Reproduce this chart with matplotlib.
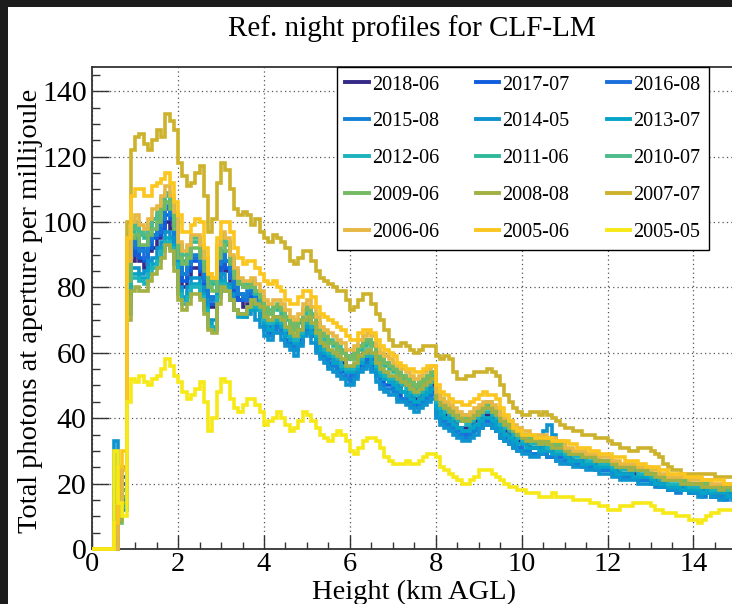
import numpy as np
import matplotlib
matplotlib.use("Agg")
import matplotlib.pyplot as plt
from matplotlib.patches import Rectangle
from matplotlib.lines import Line2D
from matplotlib.ticker import MultipleLocator

plt.rcParams['font.family'] = ['Liberation Serif', 'DejaVu Serif']

# Profiles are histograms in 0.1 km height bins starting at 0 km AGL.
BIN_WIDTH_KM = 0.1

p2018_06 = [0, 0, 0, 0, 0, 4, 12, 16, 78, 88,
            91, 88, 86, 91, 92, 95, 97, 100, 98, 92,
            84, 80, 83, 86, 86, 83, 79, 74, 74, 83,
            88, 85, 80, 77, 76, 74, 75, 77, 74, 71,
            70, 68, 70, 71, 69, 66, 65, 64, 67, 69,
            70, 68, 64, 62, 62, 60, 58, 58, 57, 55,
            54, 56, 58, 60, 60, 58, 56, 54, 53, 52,
            51, 50, 48, 48, 47, 46, 47, 49, 49, 50,
            44, 42, 41, 40, 39, 37, 37, 37, 38, 39,
            40, 41, 41, 40, 39, 37, 36, 35, 34, 33,
            32, 32, 31, 31, 31, 31, 30, 30, 29, 29,
            28, 28, 27, 27, 27, 26, 26, 26, 25, 25,
            25, 24, 24, 23, 23, 23, 23, 22, 22, 22,
            21, 21, 20, 20, 19, 19, 19, 19, 19, 18,
            18, 18, 18, 18, 17, 17, 17, 17, 17, 17]

p2017_07 = [0, 0, 0, 0, 0, 18, 14, 20, 80, 90,
            93, 89, 88, 92, 95, 96, 98, 102, 101, 94,
            86, 82, 85, 88, 88, 85, 81, 75, 75, 85,
            89, 86, 83, 78, 76, 76, 77, 77, 75, 73,
            68, 66, 68, 69, 66, 64, 63, 61, 64, 67,
            68, 65, 62, 60, 59, 57, 56, 55, 54, 52,
            52, 54, 56, 57, 58, 56, 53, 51, 50, 50,
            49, 47, 46, 46, 45, 44, 45, 46, 47, 48,
            42, 40, 38, 37, 36, 35, 34, 35, 36, 37,
            38, 39, 39, 38, 36, 35, 34, 33, 32, 31,
            30, 30, 29, 29, 29, 29, 28, 28, 28, 28,
            27, 27, 26, 26, 26, 25, 25, 25, 24, 24,
            24, 23, 23, 22, 22, 22, 22, 21, 21, 21,
            20, 20, 19, 19, 18, 18, 18, 18, 18, 17,
            17, 17, 17, 17, 16, 16, 16, 16, 16, 16]

p2016_08 = [0, 0, 0, 0, 0, 10, 16, 22, 82, 92,
            94, 92, 89, 94, 96, 97, 101, 104, 102, 95,
            86, 84, 87, 89, 89, 86, 82, 76, 77, 87,
            90, 88, 83, 80, 78, 76, 78, 79, 76, 74,
            69, 68, 70, 69, 68, 66, 64, 63, 66, 68,
            69, 67, 64, 61, 60, 58, 58, 57, 55, 54,
            53, 55, 57, 58, 59, 58, 55, 53, 52, 51,
            50, 49, 48, 47, 46, 45, 46, 47, 48, 49,
            42, 41, 39, 38, 37, 36, 35, 36, 36, 37,
            38, 40, 39, 38, 37, 35, 34, 33, 32, 31,
            30, 30, 29, 29, 29, 29, 28, 29, 28, 28,
            27, 26, 26, 26, 25, 25, 25, 24, 24, 24,
            24, 23, 23, 22, 22, 22, 22, 21, 21, 21,
            20, 20, 19, 19, 18, 18, 18, 18, 18, 17,
            17, 17, 17, 17, 16, 16, 16, 16, 16, 16]

p2015_08 = [0, 0, 0, 0, 0, 14, 20, 18, 84, 93,
            95, 91, 91, 95, 96, 99, 101, 105, 102, 96,
            87, 84, 87, 90, 90, 88, 83, 77, 76, 87,
            91, 88, 85, 80, 78, 77, 79, 79, 77, 75,
            67, 65, 67, 68, 66, 63, 62, 61, 63, 66,
            67, 65, 61, 59, 58, 56, 56, 54, 53, 52,
            51, 53, 55, 56, 57, 55, 53, 50, 49, 49,
            48, 46, 46, 45, 44, 43, 44, 45, 46, 47,
            41, 39, 38, 37, 36, 35, 34, 34, 35, 36,
            37, 38, 38, 37, 36, 34, 33, 32, 31, 30,
            30, 30, 29, 29, 29, 29, 28, 28, 27, 27,
            27, 27, 26, 26, 26, 25, 25, 25, 24, 24,
            24, 23, 23, 22, 22, 22, 22, 21, 21, 21,
            20, 19, 19, 19, 18, 18, 17, 18, 18, 17,
            17, 17, 16, 17, 16, 16, 16, 15, 16, 16]

p2014_05 = [0, 0, 0, 0, 0, 33, 16, 12, 75, 86,
            86, 84, 85, 88, 89, 92, 94, 97, 95, 89,
            80, 77, 80, 83, 83, 80, 76, 70, 70, 80,
            84, 81, 78, 73, 72, 71, 72, 73, 70, 68,
            65, 64, 66, 66, 64, 62, 61, 59, 62, 65,
            66, 63, 60, 58, 57, 55, 54, 53, 52, 50,
            50, 52, 54, 55, 56, 54, 51, 49, 48, 47,
            47, 45, 45, 44, 43, 42, 43, 44, 45, 46,
            40, 38, 37, 36, 35, 34, 33, 33, 34, 35,
            37, 38, 38, 37, 36, 34, 33, 32, 31, 30,
            29, 29, 28, 28, 29, 36, 38, 35, 27, 26,
            26, 26, 25, 25, 25, 24, 24, 24, 23, 23,
            23, 22, 22, 21, 21, 21, 21, 20, 20, 20,
            20, 20, 19, 19, 18, 18, 18, 18, 18, 17,
            17, 16, 17, 17, 16, 16, 15, 16, 16, 15]

p2013_07 = [0, 0, 0, 0, 0, 6, 12, 15, 74, 84,
            84, 83, 83, 86, 87, 89, 92, 95, 93, 87,
            79, 76, 78, 81, 81, 78, 74, 69, 68, 78,
            82, 80, 76, 73, 71, 71, 73, 74, 73, 71,
            69, 67, 69, 70, 68, 65, 64, 63, 65, 68,
            69, 66, 64, 61, 60, 59, 57, 57, 55, 54,
            54, 55, 57, 59, 59, 57, 55, 53, 52, 51,
            50, 49, 48, 47, 46, 45, 46, 47, 48, 49,
            43, 41, 40, 39, 38, 37, 36, 36, 37, 38,
            39, 40, 40, 39, 38, 36, 35, 34, 33, 32,
            32, 31, 31, 31, 30, 31, 30, 29, 29, 29,
            28, 27, 27, 27, 26, 26, 26, 25, 25, 25,
            25, 24, 23, 23, 23, 23, 22, 22, 22, 22,
            21, 20, 20, 20, 19, 19, 19, 18, 19, 18,
            18, 18, 17, 18, 17, 17, 17, 17, 16, 17]

p2012_06 = [0, 0, 0, 0, 0, 8, 10, 13, 72, 83,
            83, 82, 81, 84, 86, 88, 91, 94, 92, 87,
            78, 75, 77, 80, 80, 77, 73, 68, 67, 77,
            81, 79, 76, 73, 72, 72, 74, 76, 74, 73,
            70, 69, 70, 71, 69, 67, 65, 64, 66, 69,
            70, 68, 65, 63, 61, 60, 59, 58, 56, 55,
            55, 56, 58, 59, 61, 59, 56, 54, 53, 52,
            52, 51, 50, 49, 48, 47, 48, 49, 50, 51,
            45, 43, 42, 41, 40, 39, 39, 38, 39, 40,
            41, 42, 42, 41, 40, 38, 37, 36, 35, 34,
            33, 33, 32, 32, 32, 32, 31, 31, 30, 30,
            29, 29, 28, 28, 28, 27, 27, 27, 26, 26,
            26, 25, 25, 24, 24, 24, 24, 23, 23, 23,
            22, 22, 21, 21, 20, 20, 20, 20, 20, 19,
            19, 19, 19, 19, 18, 18, 18, 18, 18, 18]

p2011_06 = [0, 0, 0, 0, 0, 0, 10, 14, 84, 97,
            99, 96, 95, 98, 101, 102, 105, 108, 106, 100,
            92, 88, 91, 94, 94, 91, 87, 82, 81, 91,
            95, 93, 88, 84, 81, 80, 80, 81, 78, 76,
            73, 72, 74, 73, 72, 70, 68, 67, 69, 72,
            73, 71, 68, 65, 64, 63, 62, 61, 60, 58,
            58, 59, 61, 62, 63, 62, 59, 57, 56, 55,
            54, 53, 52, 51, 50, 49, 50, 51, 52, 53,
            46, 44, 43, 42, 41, 40, 39, 39, 40, 41,
            42, 43, 43, 42, 41, 39, 38, 37, 36, 35,
            34, 34, 33, 33, 33, 33, 32, 32, 31, 31,
            30, 30, 29, 29, 29, 28, 28, 28, 27, 27,
            27, 26, 26, 25, 25, 25, 25, 24, 24, 24,
            23, 23, 22, 22, 21, 21, 21, 21, 21, 20,
            20, 20, 20, 20, 19, 19, 19, 19, 19, 19]

p2010_07 = [0, 0, 0, 0, 0, 0, 12, 18, 85, 98,
            100, 97, 96, 99, 101, 103, 107, 109, 107, 101,
            93, 90, 92, 95, 95, 92, 88, 83, 82, 92,
            96, 94, 89, 85, 82, 81, 81, 82, 79, 77,
            74, 73, 74, 74, 73, 71, 69, 68, 70, 73,
            74, 72, 69, 66, 65, 64, 63, 62, 61, 59,
            59, 60, 62, 63, 64, 63, 60, 58, 57, 56,
            55, 54, 53, 52, 51, 50, 51, 52, 53, 54,
            47, 45, 44, 43, 42, 41, 40, 40, 41, 42,
            43, 44, 44, 43, 42, 40, 39, 38, 37, 36,
            35, 34, 33, 34, 33, 33, 32, 32, 32, 31,
            30, 29, 29, 29, 28, 28, 28, 27, 27, 27,
            27, 26, 25, 25, 25, 25, 24, 24, 24, 23,
            23, 23, 22, 22, 21, 21, 21, 21, 21, 20,
            20, 20, 19, 20, 19, 19, 19, 19, 18, 19]

p2009_06 = [0, 0, 0, 0, 0, 0, 8, 16, 82, 95,
            96, 93, 93, 96, 98, 100, 104, 106, 104, 98,
            89, 87, 89, 92, 92, 89, 85, 80, 79, 89,
            93, 91, 87, 83, 81, 80, 80, 81, 79, 77,
            74, 72, 74, 75, 73, 71, 69, 67, 70, 73,
            74, 71, 69, 66, 65, 63, 63, 61, 60, 59,
            58, 60, 62, 64, 64, 62, 60, 58, 57, 56,
            55, 54, 53, 52, 51, 50, 51, 52, 53, 54,
            47, 46, 44, 43, 42, 41, 41, 40, 41, 42,
            43, 44, 45, 43, 42, 40, 39, 38, 37, 36,
            35, 35, 34, 34, 34, 34, 33, 33, 32, 32,
            30, 30, 29, 29, 29, 28, 28, 28, 27, 27,
            27, 26, 26, 25, 25, 25, 25, 24, 24, 24,
            23, 23, 22, 22, 21, 21, 21, 21, 21, 20,
            20, 20, 20, 20, 19, 19, 19, 19, 19, 19]

p2008_08 = [0, 0, 0, 0, 0, 0, 9, 14, 70, 79,
            80, 79, 79, 82, 84, 86, 89, 93, 91, 85,
            76, 73, 75, 78, 78, 76, 72, 67, 66, 75,
            80, 79, 76, 73, 72, 72, 74, 76, 75, 74,
            71, 70, 71, 71, 70, 68, 66, 65, 67, 70,
            71, 69, 66, 63, 62, 61, 60, 59, 58, 56,
            56, 57, 59, 60, 61, 60, 57, 55, 54, 53,
            53, 52, 51, 50, 49, 48, 49, 50, 51, 52,
            46, 44, 43, 42, 41, 40, 39, 39, 40, 41,
            42, 43, 43, 42, 41, 39, 38, 37, 36, 35,
            34, 33, 33, 33, 32, 33, 32, 31, 31, 31,
            30, 29, 29, 29, 28, 28, 28, 27, 27, 27,
            27, 26, 25, 25, 25, 24, 25, 24, 24, 23,
            23, 22, 22, 21, 21, 21, 21, 20, 20, 20,
            20, 20, 19, 19, 19, 19, 18, 19, 19, 18]

p2007_07 = [0, 0, 0, 0, 0, 5, 18, 25, 100, 122,
            126, 127, 124, 122, 125, 128, 126, 133, 131, 128,
            118, 114, 111, 112, 115, 117, 108, 97, 101, 112,
            118, 116, 110, 104, 102, 103, 102, 99, 101, 97,
            95, 94, 96, 95, 94, 92, 88, 87, 89, 91,
            91, 88, 85, 83, 82, 81, 80, 79, 79, 76,
            73, 74, 76, 78, 78, 75, 72, 70, 67, 64,
            62, 62, 63, 62, 61, 60, 61, 62, 62, 62,
            59, 58, 59, 58, 54, 52, 52, 53, 53, 54,
            54, 54, 55, 54, 53, 50, 47, 45, 43, 42,
            41, 41, 42, 42, 41, 42, 41, 40, 39, 38,
            37, 37, 36, 36, 35, 35, 35, 34, 34, 34,
            33, 32, 32, 31, 31, 30, 30, 31, 31, 31,
            30, 29, 28, 26, 25, 24, 24, 23, 23, 23,
            23, 23, 23, 23, 23, 22, 22, 22, 22, 22]

p2006_06 = [0, 0, 0, 0, 0, 0, 14, 24, 88, 100,
            102, 99, 98, 101, 104, 105, 108, 111, 108, 103,
            94, 91, 93, 96, 96, 93, 89, 84, 83, 93,
            97, 95, 90, 86, 83, 82, 82, 83, 81, 79,
            76, 75, 76, 76, 75, 73, 71, 70, 72, 75,
            76, 74, 71, 68, 67, 66, 65, 64, 63, 61,
            61, 62, 64, 65, 66, 65, 62, 60, 59, 58,
            57, 56, 55, 54, 53, 52, 53, 54, 55, 56,
            48, 46, 45, 44, 43, 42, 41, 41, 42, 43,
            44, 45, 45, 44, 43, 41, 40, 39, 38, 37,
            36, 36, 35, 35, 35, 35, 34, 34, 33, 33,
            31, 31, 30, 30, 30, 29, 29, 29, 28, 28,
            28, 27, 27, 26, 26, 26, 26, 25, 25, 25,
            24, 24, 23, 23, 22, 22, 22, 22, 22, 21,
            21, 21, 21, 21, 20, 20, 20, 20, 20, 20]

p2005_06 = [0, 0, 0, 0, 0, 8, 25, 30, 95, 108,
            110, 110, 108, 108, 111, 112, 113, 115, 112, 106,
            102, 97, 97, 99, 101, 100, 92, 84, 83, 95,
            100, 100, 97, 92, 89, 87, 88, 88, 86, 84,
            82, 81, 82, 80, 79, 76, 75, 75, 77, 79,
            79, 77, 74, 72, 71, 70, 69, 68, 67, 65,
            64, 64, 66, 67, 67, 66, 64, 62, 61, 60,
            59, 57, 56, 55, 55, 54, 54, 55, 56, 56,
            50, 48, 47, 46, 45, 45, 44, 44, 45, 46,
            47, 48, 47, 47, 46, 43, 41, 39, 37, 36,
            35, 35, 35, 34, 34, 34, 34, 33, 33, 33,
            33, 32, 32, 31, 31, 31, 30, 30, 29, 29,
            29, 28, 28, 28, 27, 27, 27, 26, 26, 25,
            25, 25, 24, 24, 23, 23, 23, 23, 22, 22,
            22, 22, 21, 21, 21, 21, 21, 20, 20, 20]

p2005_05 = [0, 0, 0, 0, 0, 30, 14, 10, 45, 52,
            51, 53, 51, 50, 52, 53, 55, 58, 56, 53,
            51, 48, 46, 47, 49, 51, 45, 36, 40, 48,
            52, 51, 46, 43, 42, 44, 46, 46, 44, 42,
            38, 39, 40, 42, 40, 38, 36, 37, 39, 42,
            41, 39, 37, 35, 34, 33, 35, 36, 35, 33,
            30, 29, 31, 33, 34, 34, 33, 31, 28, 27,
            26, 26, 26, 27, 26, 26, 27, 28, 29, 29,
            28, 25, 24, 23, 22, 21, 20, 20, 21, 22,
            24, 24, 24, 23, 22, 21, 20, 19, 19, 18,
            18, 17, 17, 17, 16, 16, 16, 17, 16, 16,
            16, 16, 15, 15, 15, 15, 14, 14, 13, 13,
            12, 12, 12, 13, 13, 13, 14, 14, 14, 14,
            13, 12, 12, 11, 11, 11, 10, 10, 10, 9,
            9, 8, 9, 10, 11, 11, 12, 12, 12, 12]

labels = ['2018-06', '2017-07', '2016-08', '2015-08', '2014-05',
          '2013-07', '2012-06', '2011-06', '2010-07', '2009-06',
          '2008-08', '2007-07', '2006-06', '2005-06', '2005-05']
profiles = [p2018_06, p2017_07, p2016_08, p2015_08, p2014_05,
            p2013_07, p2012_06, p2011_06, p2010_07, p2009_06,
            p2008_08, p2007_07, p2006_06, p2005_06, p2005_05]
colors = ['#352a87', '#0f5cdd', '#1a6fdc', '#1480d5', '#0e93cf',
          '#06a5c7', '#1cb3bd', '#2fb99a', '#4dbb8a', '#73ba62',
          '#a2b044', '#cdb22c', '#e8b844', '#fbc61f', '#f7e917']

x_ticks = [0, 2, 4, 6, 8, 10, 12, 14]
y_ticks = [0, 20, 40, 60, 80, 100, 120, 140]

fig = plt.figure(figsize=(7.32, 6.04), dpi=100)
fig.patch.set_facecolor('white')

# dark canvas border on the left and top
fig.patches.append(Rectangle((0, 0), 8 / 732, 1, transform=fig.transFigure,
                             facecolor='#1c1c1c', edgecolor='none', zorder=10))
fig.patches.append(Rectangle((0, 1 - 7 / 604), 1, 7 / 604, transform=fig.transFigure,
                             facecolor='#1c1c1c', edgecolor='none', zorder=10))

ax = fig.add_axes([0.126, 0.0911, 0.880, 0.798])

for lab, col, vals in zip(labels, colors, profiles):
    edges = np.arange(len(vals) + 1) * BIN_WIDTH_KM
    ax.stairs(vals, edges, baseline=None, color=col, linewidth=2.6,
              label=lab, clip_on=False, zorder=3)

ax.set_xlim(0, 15)
ax.set_ylim(0, 147.4)
ax.set_xticks(x_ticks)
ax.set_yticks(y_ticks)
ax.xaxis.set_minor_locator(MultipleLocator(0.5))
ax.yaxis.set_minor_locator(MultipleLocator(5))
ax.tick_params(axis='both', which='both', direction='in', colors='#333333',
               labelcolor='black')
ax.tick_params(axis='y', which='major', length=12, width=1, pad=4, labelsize=21.5)
ax.tick_params(axis='y', which='minor', length=6, width=1)
ax.tick_params(axis='x', which='major', length=10, width=1, pad=2, labelsize=20.5)
ax.tick_params(axis='x', which='minor', length=5, width=1)
for sp in ax.spines.values():
    sp.set_color('#333333')
    sp.set_linewidth(1.3)
ax.set_axisbelow(True)
ax.grid(True, which='major', color='#555555', linestyle=(0, (1, 2.5)), linewidth=0.9)

# legend filled row by row, three entries per row
order = [r * 3 + c for c in range(3) for r in range(5)]
handles = [Line2D([], [], color=colors[i], linewidth=2.8) for i in order]
leg = ax.legend(handles, [labels[i] for i in order], ncol=3, loc='upper left',
                bbox_to_anchor=(0.380, 1.0), fontsize=14.5, frameon=True,
                fancybox=False, edgecolor='black', framealpha=1,
                borderaxespad=0, handlelength=1.15, handletextpad=0.15,
                columnspacing=1.85, labelspacing=0.88, borderpad=0.42)
leg.get_frame().set_linewidth(1.0)
leg.set_zorder(5)

fig.text(0.563, 0.953, 'Ref. night profiles for CLF-LM', ha='center', va='center',
         fontsize=21)
fig.text(0.041, 0.485, 'Total photons at aperture per millijoule', rotation=90,
         ha='center', va='center', fontsize=20.5)
fig.text(0.566, 0.008, 'Height (km AGL)', ha='center', va='baseline', fontsize=20.5)

fig.savefig('out.png', dpi=100)
